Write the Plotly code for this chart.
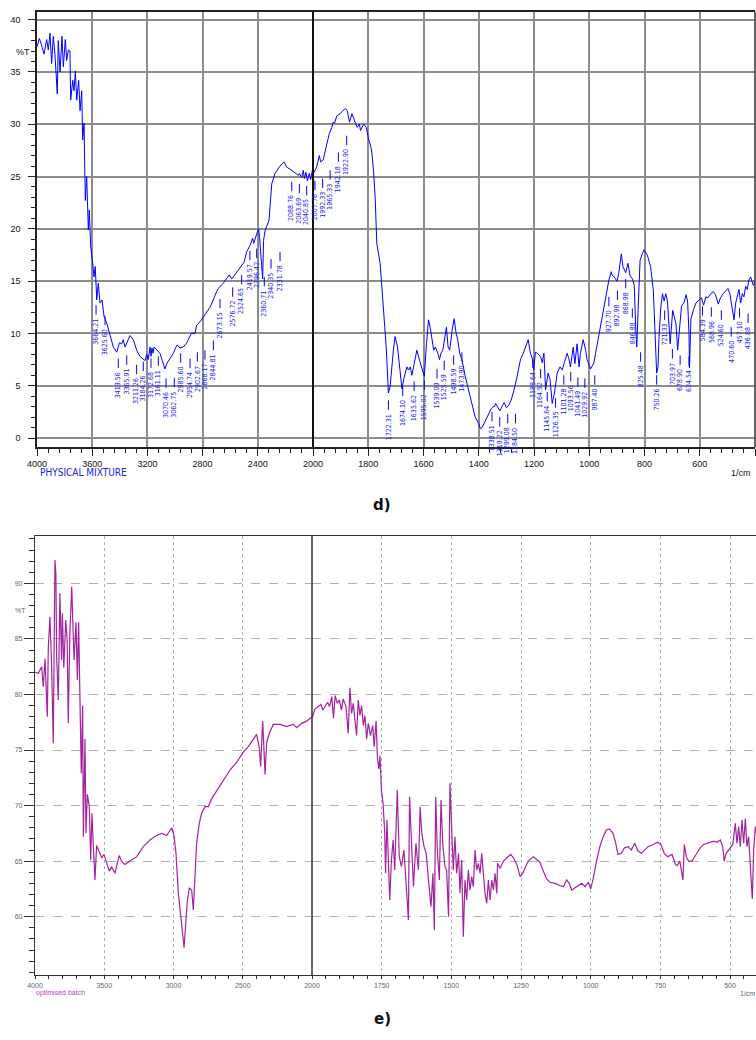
import plotly.graph_objects as go

# ---------------- DATA ----------------
# Panel d) PHYSICAL MIXTURE  (wavenumber 1/cm, %T)
top_wn = [4000, 3983, 3970, 3949, 3930, 3918, 3906, 3894, 3882, 3870, 3853, 3846, 3833, 3819, 3809,
          3795, 3785, 3773, 3761, 3756, 3741, 3732, 3722, 3712, 3698, 3688, 3676, 3669, 3659, 3650,
          3640, 3628, 3621, 3611, 3596, 3587, 3578, 3567, 3556, 3543, 3529, 3514, 3495, 3471, 3447,
          3422, 3403, 3386, 3375, 3362, 3338, 3326, 3302, 3278, 3254, 3217, 3205, 3194, 3181, 3174,
          3167, 3159, 3152, 3133, 3109, 3092, 3072, 3060, 3036, 3012, 2993, 2983, 2964, 2940, 2915,
          2903, 2881, 2855, 2843, 2819, 2795, 2746, 2698, 2686, 2650, 2607, 2589, 2572, 2541, 2524,
          2500, 2481, 2457, 2437, 2430, 2408, 2394, 2387, 2372, 2365, 2358, 2348, 2319, 2312, 2299,
          2275, 2239, 2210, 2191, 2154, 2123, 2106, 2099, 2082, 2070, 2063, 2051, 2041, 2027, 2017,
          2002, 1996, 1987, 1977, 1972, 1963, 1950, 1941, 1932, 1927, 1922, 1914, 1902, 1896, 1884,
          1876, 1868, 1859, 1848, 1840, 1832, 1828, 1817, 1807, 1799, 1793, 1787, 1781, 1775, 1769,
          1757, 1745, 1735, 1727, 1721, 1709, 1703, 1694, 1684, 1678, 1670, 1660, 1654, 1648, 1642,
          1634, 1624, 1614, 1605, 1597, 1590, 1582, 1576, 1570, 1563, 1557, 1548, 1542, 1537, 1530,
          1524, 1517, 1511, 1505, 1497, 1489, 1482, 1476, 1469, 1461, 1449, 1437, 1425, 1413, 1401,
          1394, 1388, 1376, 1364, 1355, 1348, 1343, 1339, 1332, 1324, 1316, 1308, 1300, 1292, 1283,
          1273, 1261, 1249, 1239, 1231, 1221, 1213, 1206, 1201, 1195, 1188, 1176, 1170, 1164, 1158,
          1149, 1142, 1134, 1126, 1116, 1106, 1098, 1089, 1080, 1074, 1068, 1058, 1052, 1044, 1037,
          1032, 1022, 1013, 1008, 995, 983, 977, 959, 947, 937, 929, 920, 918, 913, 899,
          893, 884, 878, 868, 860, 852, 843, 837, 832, 828, 823, 816, 808, 802, 790,
          778, 768, 760, 756, 751, 748, 741, 735, 729, 723, 717, 712, 707, 698, 686,
          680, 674, 666, 656, 650, 644, 639, 637, 632, 622, 614, 602, 594, 586, 578,
          570, 560, 551, 543, 533, 525, 515, 507, 498, 491, 483, 476, 470, 464, 458,
          452, 446, 440, 434, 428, 422, 416, 410, 406, 400]
top_t = [37.4, 38.2, 37.7, 36.7, 38.1, 37.1, 38.7, 35.8, 38.4, 36.7, 32.9, 38.0, 35.0, 38.4, 35.5,
         38.1, 36.1, 37.1, 37.0, 32.3, 34.2, 33.2, 35.1, 32.3, 34.2, 31.3, 33.2, 28.5, 30.1, 22.7,
         25.0, 19.9, 21.8, 18.3, 16.7, 15.4, 16.4, 13.2, 14.8, 12.9, 13.2, 11.6, 11.0, 9.7, 8.7,
         8.2, 9.1, 9.0, 9.4, 8.7, 9.4, 9.8, 9.4, 8.4, 7.8, 7.4, 8.0, 7.5, 8.7, 7.8,
         8.6, 8.1, 8.7, 8.4, 8.1, 7.4, 6.6, 7.1, 7.6, 8.1, 8.7, 8.9, 8.6, 8.7, 9.1,
         9.4, 10.0, 10.0, 10.8, 11.1, 11.6, 12.5, 14.0, 14.3, 14.8, 15.6, 15.2, 15.5, 16.0, 16.4,
         16.8, 17.8, 18.4, 19.1, 18.6, 19.5, 20.0, 19.2, 17.0, 15.2, 18.9, 19.8, 20.8, 22.1, 24.3,
         25.3, 26.0, 26.4, 25.9, 25.6, 25.3, 25.1, 25.3, 24.9, 25.6, 24.8, 25.4, 24.6, 25.3, 24.7,
         25.8, 25.4, 25.9, 27.0, 26.4, 26.6, 28.1, 29.1, 29.7, 30.2, 30.1, 30.8, 31.0, 31.2, 31.5,
         31.3, 30.2, 31.0, 30.2, 29.7, 30.0, 29.4, 30.0, 29.7, 28.6, 28.1, 27.3, 25.6, 23.0, 18.6,
         16.7, 11.9, 8.7, 4.3, 4.9, 8.4, 9.7, 8.7, 6.2, 4.7, 5.8, 6.8, 6.5, 6.8, 6.0,
         7.1, 8.4, 7.4, 6.5, 5.9, 8.7, 11.3, 10.6, 9.4, 8.4, 8.7, 8.1, 7.5, 8.1, 8.4,
         9.4, 10.6, 8.7, 8.4, 10.2, 11.4, 10.0, 9.4, 8.1, 7.5, 5.9, 4.6, 3.3, 2.0, 1.4,
         0.9, 1.0, 1.7, 2.3, 2.8, 3.0, 3.0, 3.3, 3.0, 2.6, 3.0, 3.4, 2.9, 3.1, 3.6,
         4.5, 5.9, 7.5, 8.1, 8.7, 9.4, 8.1, 7.6, 6.5, 8.2, 8.1, 7.8, 7.2, 8.1, 4.6,
         6.2, 5.6, 3.3, 4.3, 6.2, 6.8, 6.5, 7.3, 8.1, 7.6, 6.8, 8.7, 7.1, 9.0, 6.8,
         8.1, 9.4, 8.4, 7.5, 6.6, 7.2, 8.1, 10.6, 12.5, 13.8, 15.1, 15.9, 15.6, 15.5, 15.0,
         15.8, 17.6, 16.4, 15.8, 16.7, 15.5, 15.2, 14.6, 10.6, 8.7, 12.3, 17.0, 17.6, 18.0, 17.5,
         16.4, 14.1, 7.8, 6.2, 6.8, 9.4, 12.5, 13.8, 13.1, 13.8, 13.1, 11.3, 9.0, 12.2, 10.9,
         8.4, 10.0, 12.6, 13.0, 13.7, 13.1, 10.0, 6.7, 11.4, 12.3, 12.9, 13.2, 13.4, 12.7, 13.5,
         13.4, 13.8, 14.0, 13.7, 12.8, 13.4, 13.8, 14.0, 14.3, 13.8, 12.6, 11.3, 12.9, 13.7, 14.2,
         12.9, 13.8, 13.5, 14.5, 14.2, 15.1, 15.4, 14.9, 14.6, 15.0]

# Panel e) optimised batch
bot_wn = [4000, 3976, 3952, 3940, 3928, 3911, 3904, 3892, 3880, 3868, 3856, 3849, 3844, 3832, 3820,
          3808, 3802, 3792, 3778, 3768, 3760, 3749, 3735, 3728, 3718, 3704, 3694, 3685, 3675, 3666,
          3656, 3651, 3639, 3632, 3622, 3608, 3598, 3589, 3579, 3567, 3555, 3536, 3519, 3502, 3483,
          3464, 3447, 3423, 3406, 3392, 3375, 3351, 3314, 3266, 3218, 3170, 3122, 3085, 3049, 3013,
          2996, 2982, 2965, 2953, 2941, 2924, 2910, 2901, 2886, 2869, 2857, 2845, 2833, 2814, 2797,
          2773, 2749, 2725, 2689, 2640, 2592, 2544, 2496, 2460, 2424, 2400, 2380, 2371, 2356, 2344,
          2339, 2327, 2308, 2279, 2231, 2183, 2135, 2111, 2075, 2039, 2003, 1998, 1989, 1977, 1968,
          1961, 1952, 1944, 1937, 1929, 1923, 1917, 1909, 1902, 1894, 1888, 1878, 1870, 1864, 1858,
          1852, 1846, 1840, 1834, 1828, 1822, 1816, 1810, 1804, 1798, 1790, 1782, 1777, 1770, 1765,
          1760, 1756, 1751, 1745, 1739, 1736, 1731, 1726, 1721, 1715, 1709, 1703, 1694, 1687, 1679,
          1670, 1663, 1654, 1650, 1642, 1636, 1627, 1618, 1612, 1606, 1598, 1590, 1582, 1573, 1566,
          1561, 1556, 1550, 1543, 1537, 1531, 1523, 1517, 1510, 1505, 1499, 1493, 1487, 1481, 1474,
          1469, 1463, 1457, 1451, 1445, 1439, 1433, 1427, 1421, 1415, 1409, 1403, 1397, 1391, 1385,
          1379, 1373, 1367, 1361, 1355, 1349, 1343, 1337, 1334, 1325, 1313, 1301, 1287, 1277, 1265,
          1253, 1244, 1236, 1224, 1206, 1192, 1182, 1170, 1158, 1146, 1128, 1110, 1098, 1086, 1077,
          1068, 1056, 1044, 1032, 1020, 1008, 1000, 991, 979, 967, 955, 944, 932, 920, 910,
          902, 890, 878, 866, 854, 842, 830, 818, 806, 794, 775, 760, 748, 736, 724,
          708, 696, 690, 680, 675, 669, 664, 657, 649, 637, 629, 619, 607, 595, 583,
          571, 559, 547, 535, 526, 521, 514, 505, 497, 490, 481, 475, 469, 463, 457,
          451, 445, 439, 433, 427, 420, 415, 409, 405]
bot_t = [82.0, 81.9, 82.5, 80.7, 83.2, 78.0, 84.2, 87.0, 82.5, 75.6, 92.1, 90.8, 83.5, 79.5, 89.1,
         83.1, 87.3, 82.4, 86.7, 84.9, 77.4, 85.2, 89.7, 86.2, 83.1, 86.5, 81.3, 86.5, 80.7, 72.9,
         79.0, 67.2, 76.0, 67.5, 71.0, 69.9, 65.1, 69.3, 66.4, 63.3, 66.4, 65.8, 65.3, 65.6, 64.8,
         64.1, 64.5, 63.9, 64.8, 65.5, 65.0, 64.7, 65.0, 65.4, 66.3, 66.9, 67.3, 67.5, 67.3, 68.0,
         67.3, 65.7, 62.1, 60.9, 59.3, 57.2, 59.3, 61.3, 62.6, 62.4, 60.6, 63.6, 66.6, 68.4, 69.3,
         69.9, 69.9, 70.6, 71.3, 72.3, 73.2, 73.9, 74.8, 75.3, 75.9, 76.4, 75.2, 73.5, 77.6, 74.9,
         72.8, 75.7, 76.5, 77.3, 77.3, 77.1, 77.3, 77.0, 77.4, 77.6, 78.0, 78.0, 78.7, 78.9, 79.1,
         78.6, 79.0, 79.3, 78.9, 79.8, 77.85, 79.9, 79.2, 79.5, 78.6, 79.6, 78.9, 76.5, 80.6, 78.3,
         79.2, 77.7, 76.3, 79.5, 78.1, 79.0, 77.2, 78.1, 76.0, 77.4, 76.3, 77.2, 75.3, 77.6, 74.2,
         73.3, 74.5, 71.4, 70.2, 67.5, 63.9, 68.7, 65.7, 61.5, 65.1, 66.9, 64.2, 71.4, 65.4, 64.5,
         66.0, 63.6, 59.7, 70.8, 66.0, 62.7, 66.6, 64.2, 69.9, 67.5, 66.3, 65.7, 63.3, 60.9, 63.9,
         58.8, 70.8, 65.7, 63.3, 70.5, 66.6, 64.5, 64.2, 60.0, 72.0, 68.1, 64.2, 67.2, 63.9, 65.7,
         62.1, 65.1, 58.2, 63.3, 61.5, 64.2, 62.4, 63.6, 62.7, 66.0, 64.2, 64.8, 63.9, 65.7, 63.6,
         62.1, 61.2, 63.3, 61.5, 63.3, 62.4, 63.9, 62.1, 64.8, 64.35, 65.0, 65.3, 65.6, 65.3, 64.7,
         63.6, 63.9, 64.35, 65.0, 65.4, 65.1, 64.9, 64.1, 63.4, 63.1, 63.0, 62.8, 62.7, 63.3, 63.0,
         62.4, 62.6, 62.8, 63.0, 62.7, 63.1, 62.5, 63.4, 65.0, 66.3, 67.2, 67.8, 67.9, 67.5, 66.6,
         65.6, 65.7, 66.2, 66.3, 66.0, 66.6, 65.9, 65.7, 66.0, 66.3, 66.5, 66.7, 66.5, 65.7, 65.4,
         65.6, 64.7, 64.6, 65.0, 64.0, 63.3, 66.5, 65.4, 65.0, 65.0, 65.3, 65.7, 66.2, 66.5, 66.6,
         66.7, 66.8, 66.7, 66.9, 66.3, 65.0, 65.7, 66.0, 66.3, 66.5, 68.4, 66.6, 68.1, 66.3, 68.7,
         66.6, 68.8, 66.3, 67.2, 64.8, 61.6, 66.0, 68.1, 67.5]

# Peak labels of panel d)
peak_labels = ["3664.21", "3625.60", "3419.56", "3365.91", "3211.26", "3184.26", "3172.68", "3161.11",
               "3070.46", "3062.75", "2985.60", "2954.74", "2902.67", "2868.17", "2844.81", "2673.15",
               "2576.72", "2524.65", "2419.57", "2396.42", "2360.71", "2340.35", "2331.78", "2088.76",
               "2063.69", "2040.85", "2007.76", "1992.33", "1965.33", "1942.18", "1922.90", "1722.31",
               "1674.10", "1635.62", "1595.02", "1539.09", "1525.59", "1498.59", "1473.90", "1338.51",
               "1319.22", "1299.08", "1284.50", "1188.64", "1164.92", "1145.64", "1126.35", "1101.28",
               "1093.56", "1041.49", "1029.92", "987.40", "927.70", "892.98", "868.98", "846.88",
               "825.48", "750.26", "721.33", "703.97", "678.90", "634.54", "584.39", "568.96",
               "524.60", "470.60", "457.10", "436.88"]
label_wn = [3572, 3507, 3411, 3350, 3278, 3230, 3174, 3121, 3065, 3005, 2959, 2891, 2838, 2783, 2722, 2674,
            2582, 2517, 2457, 2408, 2353, 2304, 2239, 2154, 2099, 2046, 1993, 1965, 1938, 1908, 1878, 1727,
            1675, 1634, 1597, 1551, 1525, 1491, 1461, 1352, 1324, 1295, 1267, 1204, 1176, 1152, 1122, 1092,
            1067, 1041, 1016, 980, 929, 898, 868, 844, 814, 756, 727, 699, 671, 639, 590, 558,
            522, 486, 456, 425]
label_top = [11.6, 10.6, 6.5, 6.8, 5.9, 6.2, 6.5, 6.7, 4.6, 4.65, 7.0, 6.5, 7.1, 7.3, 8.2, 12.2,
             13.3, 14.5, 16.8, 17.0, 14.3, 16.0, 16.7, 23.4, 23.2, 23.0, 23.5, 23.7, 24.5, 26.2, 27.8, 2.5,
             3.8, 4.3, 4.4, 5.5, 6.3, 6.8, 7.1, 1.4, 0.9, 1.2, 1.2, 6.5, 5.5, 3.3, 2.7, 4.9,
             5.2, 4.7, 4.6, 4.9, 12.4, 13.0, 14.1, 11.3, 7.1, 4.9, 11.1, 7.4, 6.8, 6.7, 11.5, 11.4,
             11.1, 9.5, 11.3, 10.8]

top_ticks_left = [4000, 3600, 3200, 2800, 2400]
top_ticks_right = [2000, 1800, 1600, 1400, 1200, 1000, 800, 600, 400]
top_yticks = [0, 5, 10, 15, 20, 25, 30, 35, 40]
bot_ticks_left = [4000, 3500, 3000, 2500]
bot_ticks_right = [2000, 1750, 1500, 1250, 1000, 750, 500]
bot_yticks = [60, 65, 70, 75, 80, 85, 90]

# ---------------- LAYOUT ----------------
W, H = 756, 1040
def fx(px): return px / W
def fy(py): return 1 - py / H

NARROW = "Liberation Sans Narrow, DejaVu Sans Condensed, Arial Narrow, sans-serif"
SANS = "Liberation Sans, Arial, sans-serif"

fig = go.Figure()
blue = "#0000ff"
purple = "#a3239f"
for xa in ("x", "x2"):
    fig.add_trace(go.Scatter(x=top_wn, y=top_t, xaxis=xa, yaxis="y", mode="lines",
                             line=dict(color=blue, width=1), showlegend=False, hoverinfo="skip"))
for xa in ("x3", "x4"):
    fig.add_trace(go.Scatter(x=bot_wn, y=bot_t, xaxis=xa, yaxis="y2", mode="lines",
                             line=dict(color=purple, width=1.2), showlegend=False, hoverinfo="skip"))

top_grid = dict(showgrid=True, gridcolor="#8c8c8c", gridwidth=1.5, zeroline=False, automargin=False,
                showline=True, linecolor="#222", linewidth=1.5, mirror=True,
                ticks="outside", ticklen=7, tickcolor="#222", tickwidth=1,
                tickfont=dict(family=SANS, size=9, color="#111"))
top_ydom = [fy(447), fy(12)]
bot_ydom = [fy(975), fy(536)]

bot_common = dict(showgrid=True, gridcolor="#b0b0b0", gridwidth=1, zeroline=False, automargin=False,
                  showline=True, linecolor="#333", linewidth=1.2, mirror=True,
                  ticks="outside", ticklen=3, tickcolor="#333", tickwidth=1,
                  tickfont=dict(family=SANS, size=7, color="#666"))

fig.update_layout(
    width=W, height=H, margin=dict(l=0, r=0, t=0, b=0),
    paper_bgcolor="white", plot_bgcolor="white",
    xaxis=dict(domain=[fx(37), fx(313)], range=[4000, 2000], anchor="y",
               tickmode="array", tickvals=top_ticks_left, ticktext=[str(v) for v in top_ticks_left],
               minor=dict(tick0=4000, dtick=80, ticks="outside", ticklen=4, tickcolor="#222", showgrid=False),
               **top_grid),
    xaxis2=dict(domain=[fx(313), fx(755)], range=[2000, 400], anchor="y",
                tickmode="array", tickvals=top_ticks_right, ticktext=[str(v) for v in top_ticks_right],
                minor=dict(tick0=2000, dtick=40, ticks="outside", ticklen=4, tickcolor="#222", showgrid=False),
                **top_grid),
    yaxis=dict(domain=top_ydom, range=[-0.86, 40.73], anchor="x",
               tickmode="array", tickvals=top_yticks, ticktext=[str(v) for v in top_yticks],
               ticklabelstandoff=6,
               minor=dict(tick0=0, dtick=1, ticks="outside", ticklen=4, tickcolor="#222", showgrid=False),
               **{k: v for k, v in top_grid.items() if k != "mirror"}),
    xaxis3=dict(domain=[fx(35), fx(312)], range=[4000, 2000], anchor="y2",
                tickmode="array", tickvals=bot_ticks_left, ticktext=[str(v) for v in bot_ticks_left],
                griddash="dot",
                minor=dict(tick0=4000, dtick=100, ticks="outside", ticklen=3, tickcolor="#333", showgrid=False),
                **bot_common),
    xaxis4=dict(domain=[fx(312), 1.0], range=[2000, 406.7], anchor="y2",
                tickmode="array", tickvals=bot_ticks_right, ticktext=[str(v) for v in bot_ticks_right],
                griddash="dot",
                minor=dict(tick0=2000, dtick=50, ticks="outside", ticklen=3, tickcolor="#333", showgrid=False),
                **bot_common),
    yaxis2=dict(domain=bot_ydom, range=[54.75, 94.26], anchor="x3",
                tickmode="array", tickvals=bot_yticks, ticktext=[str(v) for v in bot_yticks],
                griddash="dash", ticklen=10,
                minor=dict(tick0=0, dtick=1, ticks="outside", ticklen=5, tickcolor="#333", showgrid=False),
                **{k: v for k, v in bot_common.items() if k not in ("mirror", "ticklen")}),
)

shapes = []
# split lines at 2000 and right border
shapes.append(dict(type="line", xref="paper", yref="paper", x0=fx(313), x1=fx(313),
                   y0=top_ydom[0], y1=top_ydom[1], line=dict(color="#111", width=2)))
shapes.append(dict(type="line", xref="paper", yref="paper", x0=fx(755), x1=fx(755),
                   y0=top_ydom[0], y1=top_ydom[1], line=dict(color="#333", width=1.5)))
shapes.append(dict(type="line", xref="paper", yref="paper", x0=fx(312), x1=fx(312),
                   y0=bot_ydom[0], y1=bot_ydom[1], line=dict(color="#333", width=1.5)))

annotations = []
for lab, wx, top in zip(peak_labels, label_wn, label_top):
    xr = "x" if wx > 2000 else "x2"
    shapes.append(dict(type="line", xref=xr, yref="y", x0=wx, x1=wx, y0=top + 0.2, y1=top + 1.1,
                       line=dict(color=blue, width=1)))
    annotations.append(dict(x=wx, y=top, xref=xr, yref="y", text=lab, showarrow=False,
                            textangle=-90, xanchor="center", yanchor="top",
                            font=dict(family=NARROW, size=7, color="#2020ee")))

annotations += [
    dict(x=fx(14), y=fy(45), xref="paper", yref="paper", text="%T", showarrow=False,
         font=dict(family=SANS, size=9, color="#111")),
    dict(x=fx(38), y=fy(473), xref="paper", yref="paper", text="PHYSICAL MIXTURE", showarrow=False,
         xanchor="left", font=dict(family=NARROW, size=10, color="#2020ee")),
    dict(x=fx(753), y=fy(473), xref="paper", yref="paper", text="1/cm", showarrow=False,
         xanchor="right", font=dict(family=SANS, size=9, color="#111")),
    dict(x=fx(382), y=fy(505), xref="paper", yref="paper", text="<b>d)</b>", showarrow=False,
         font=dict(family="DejaVu Sans", size=15, color="#111")),
    dict(x=fx(13), y=fy(610), xref="paper", yref="paper", text="%T", showarrow=False,
         font=dict(family=SANS, size=7, color="#666")),
    dict(x=fx(35), y=fy(998), xref="paper", yref="paper", text="optimised batch", showarrow=False,
         xanchor="left", borderpad=0, font=dict(family=SANS, size=7, color="#c040c0")),
    dict(x=fx(756), y=fy(998), xref="paper", yref="paper", text="1/cm", showarrow=False,
         xanchor="right", borderpad=0, font=dict(family=SANS, size=7, color="#666")),
    dict(x=fx(382), y=fy(1030), xref="paper", yref="paper", text="<b>e)</b>", showarrow=False,
         font=dict(family="DejaVu Sans", size=15, color="#111")),
]

fig.update_layout(shapes=shapes, annotations=annotations)
fig.write_html("out.html")
